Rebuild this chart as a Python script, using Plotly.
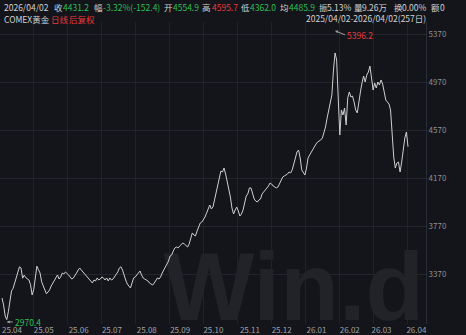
import plotly.graph_objects as go
import pandas as pd

# ---------------- data ----------------
close = [
    3170, 3112, 3020, 2990, 3055, 3155, 3230, 3250, 3290, 3335,
    3385, 3430, 3420, 3335, 3360, 3340, 3328, 3320, 3280, 3195,
    3240, 3320, 3435, 3405, 3378, 3305, 3270, 3237, 3205, 3220,
    3237, 3270, 3295, 3312, 3335, 3362, 3328, 3345, 3378, 3370,
    3387, 3378, 3362, 3345, 3328, 3337, 3353, 3378, 3403, 3420,
    3403, 3387, 3370, 3353, 3337, 3320, 3303, 3295, 3320, 3312,
    3337, 3320, 3328, 3345, 3337, 3320, 3337, 3312, 3337, 3320,
    3328, 3345, 3370, 3387, 3420, 3430, 3403, 3353, 3320, 3287,
    3270, 3253, 3295, 3337, 3345, 3362, 3378, 3395, 3362, 3337,
    3328, 3320, 3312, 3295, 3287, 3278, 3295, 3312, 3337, 3328,
    3345, 3378, 3403, 3430, 3462, 3478, 3520, 3528, 3562, 3587,
    3595, 3587, 3603, 3620, 3628, 3620, 3603, 3595, 3620, 3670,
    3712, 3695, 3687, 3728, 3770, 3795, 3803, 3820, 3845, 3878,
    3920, 3945, 3912, 3928, 3987, 4053, 4120, 4187, 4228, 4220,
    4253, 4203, 4145, 4078, 4012, 3920, 3870, 3903, 3928, 3895,
    3853, 3870, 3903, 3962, 4020, 4037, 4087, 4087, 4028, 3995,
    3978, 3970, 3987, 3995, 4037, 4053, 4062, 4078, 4103, 4128,
    4120, 4103, 4095, 4087, 4095, 4120, 4153, 4178, 4187, 4195,
    4203, 4220, 4212, 4237, 4287, 4345, 4387, 4403, 4337, 4237,
    4212, 4195, 4253, 4337, 4362, 4387, 4403, 4437, 4453, 4470,
    4478, 4487, 4503, 4545, 4595, 4670, 4737, 4812, 4862, 5070,
    5212, 5153, 4778, 4528, 4737, 4695, 4753, 4612, 4837, 4887,
    4845, 4853, 4803, 4737, 4712, 4820, 4887, 4962, 5020, 4970,
    5028, 5053, 5103, 5003, 4903, 4962, 4920, 4970, 4945, 4987,
    4953, 4887, 4820, 4803, 4787, 4737, 4545, 4345, 4253, 4295,
    4303, 4220, 4303, 4403, 4503, 4553, 4431.2,
]
holidays = ["2025-04-18", "2025-07-04", "2025-09-01", "2025-12-25", "2026-01-01"]
dates = [d for d in pd.bdate_range("2025-04-02", "2026-04-02")
         if d.strftime("%Y-%m-%d") not in holidays]
dates = dates[:len(close)]
idx = list(range(len(close)))

y_ticks = [3370, 3770, 4170, 4570, 4970, 5370]
high_val, low_val = 5396.2, 2970.4
high_idx = close.index(max(close))
low_idx = close.index(min(close))

header_row1 = [
    ("2026/04/02", "#d2d2d2"), ("收", "#d2d2d2"), ("4431.2", "#2fbf55"),
    ("幅", "#d2d2d2"), ("-3.32%(-152.4)", "#2fbf55"), ("开", "#d2d2d2"),
    ("4554.9", "#2fbf55"), ("高", "#d2d2d2"), ("4595.7", "#e8383d"),
    ("低", "#d2d2d2"), ("4362.0", "#2fbf55"), ("均", "#d2d2d2"),
    ("4485.9", "#2fbf55"), ("振", "#d2d2d2"), ("5.13%", "#d2d2d2"),
    ("量", "#d2d2d2"), ("9.26万", "#d2d2d2"), ("换", "#d2d2d2"),
    ("0.00%", "#d2d2d2"), ("额", "#d2d2d2"), ("0", "#d2d2d2"),
]
header_row1_x = [2, 52, 61, 92, 101, 162, 171, 200, 210, 239, 248, 278, 287,
                 317, 325, 352, 360, 392, 400, 429, 438]
header_row2 = [("COMEX黄金", "#d2d2d2"), ("日线", "#e8383d"), ("后复权", "#e8383d")]
header_row2_x = [2, 49, 67]
range_text = "2025/04/02-2026/04/02(257日)"

# month ticks
tickvals, ticktext = [], []
prev = None
for i, d in enumerate(dates):
    key = (d.year, d.month)
    if key != prev:
        tickvals.append(i)
        ticktext.append(d.strftime("%y.%m"))
        prev = key

# ---------------- figure ----------------
W, H = 466, 335
ML, MR, MT, MB = 0, 40, 22, 11
PW, PH = W - ML - MR, H - MT - MB
px_per_day = 406 / 256
x0 = -2 / px_per_day
x1 = x0 + PW / px_per_day
upp = 400 / 48.0
ytop = 5370 + (34 - MT) * upp
ybot = ytop - PH * upp

BG = "#13151a"
FONT = "Noto Sans CJK SC, Noto Sans, sans-serif"

fig = go.Figure()
# watermark (drawn first so the line lies on top)
fig.add_trace(go.Scatter(
    x=[x0 + 294 / px_per_day], y=[ytop - (296 - MT) * upp],
    mode="text", text=["<b>Win.d</b>"], cliponaxis=False, hoverinfo="skip",
    textfont=dict(family="Liberation Sans, Arial", size=96, color="#212328"),
    showlegend=False,
))
fig.add_trace(go.Scatter(
    x=idx, y=close, mode="lines",
    line=dict(color="#cfcfcf", width=1),
    showlegend=False, hoverinfo="skip",
))

fig.update_layout(
    width=W, height=H,
    margin=dict(l=ML, r=MR, t=MT, b=MB),
    paper_bgcolor=BG, plot_bgcolor=BG,
    font=dict(family=FONT, size=8, color="#8d8f94"),
    xaxis=dict(
        range=[x0, x1], showgrid=False, zeroline=False, showline=False,
        tickvals=tickvals, ticktext=ticktext, ticks="",
        tickfont=dict(size=8, color="#a0a2a6"), ticklabelshift=10,
        ticklabelstandoff=0,
        minor=dict(tick0=x0 + 33 / px_per_day, dtick=34 / px_per_day,
                   showgrid=True, gridcolor="#1f2228", gridwidth=1),
    ),
    yaxis=dict(
        range=[ybot, ytop], side="right", tickvals=y_ticks,
        showgrid=True, gridcolor="#22252b", gridwidth=1, zeroline=False,
        showline=True, linecolor="#2a2d33", linewidth=1, mirror=False,
        ticks="", tickfont=dict(size=8, color="#8d8f94"),
    ),
)

def yp(py):
    return (H - MB - py) / PH

def xp(px):
    return px / PW

HF = 8.5
for (txt, col), px in zip(header_row1, header_row1_x):
    fig.add_annotation(text=txt, x=xp(px), y=yp(7), xref="paper", yref="paper",
                       xanchor="left", yanchor="middle", showarrow=False,
                       font=dict(size=HF, color=col, family=FONT))
for (txt, col), px in zip(header_row2, header_row2_x):
    fig.add_annotation(text=txt, x=xp(px), y=yp(19), xref="paper", yref="paper",
                       xanchor="left", yanchor="middle", showarrow=False,
                       font=dict(size=HF, color=col, family=FONT))
fig.add_annotation(text=range_text, x=xp(428), y=yp(18), xref="paper", yref="paper",
                   xanchor="right", yanchor="middle", showarrow=False,
                   font=dict(size=HF, color="#d2d2d2", family=FONT))

# high / low markers
fig.add_annotation(text=f"{high_val}", x=high_idx, y=high_val,
                   ax=10, ay=4, xanchor="left", yanchor="middle",
                   showarrow=True, arrowhead=2, arrowsize=0.6, arrowwidth=1,
                   arrowcolor="#a0a0a0", font=dict(size=HF, color="#e8383d", family=FONT))
fig.add_annotation(text=f"{low_val}", x=low_idx, y=low_val,
                   ax=6, ay=0, xanchor="left", yanchor="middle",
                   showarrow=True, arrowhead=2, arrowsize=0.6, arrowwidth=1,
                   arrowcolor="#a0a0a0", font=dict(size=HF, color="#2fbf55", family=FONT))

fig.write_html("out.html")
